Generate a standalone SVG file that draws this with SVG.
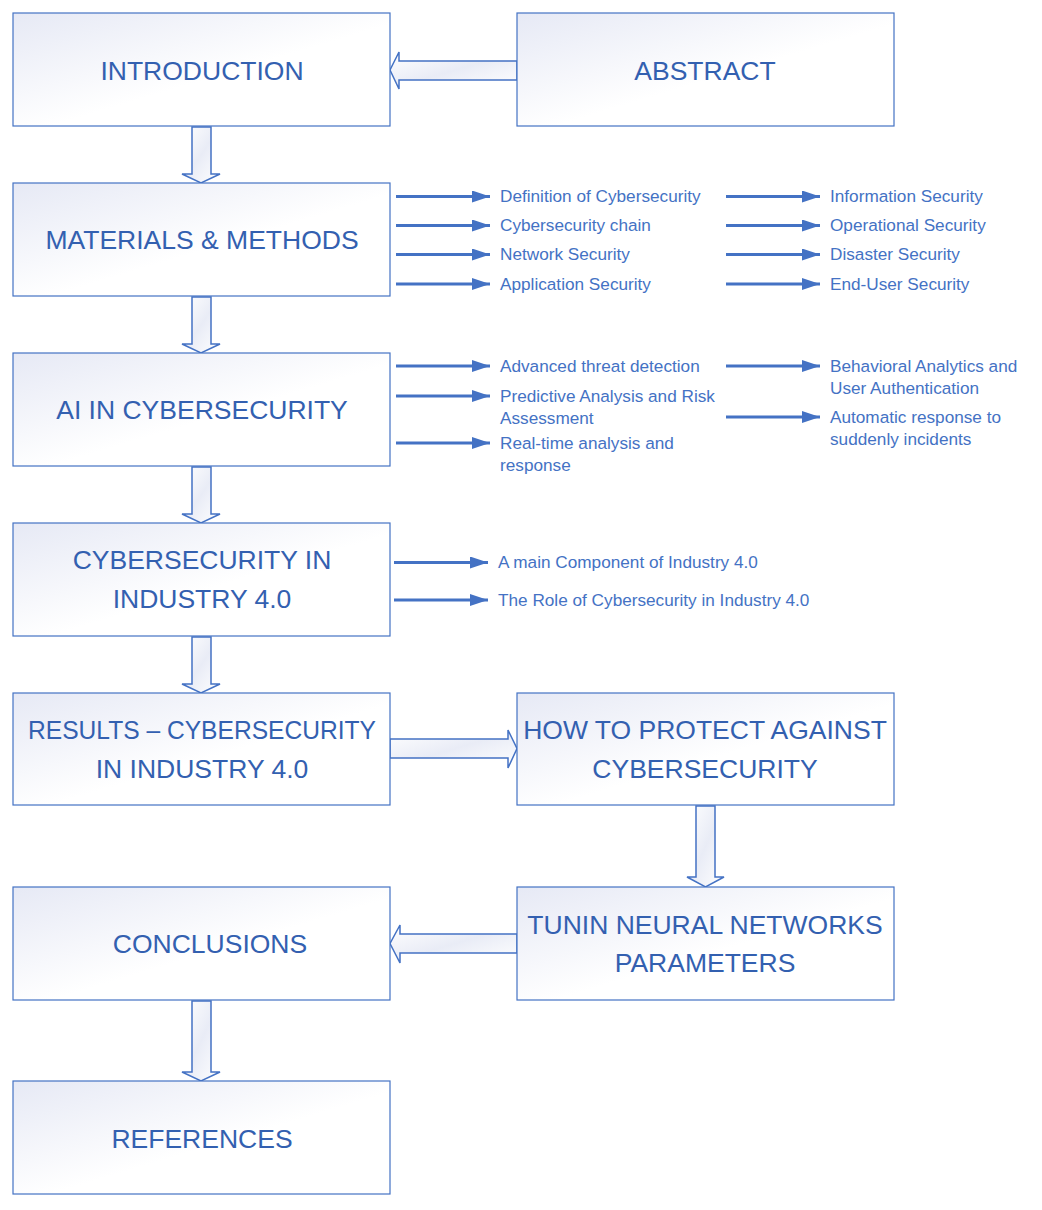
<svg xmlns="http://www.w3.org/2000/svg" width="1042" height="1210" viewBox="0 0 1042 1210">
<defs>
<linearGradient id="g" x1="0" y1="0" x2="1" y2="1">
<stop offset="0" stop-color="#E6E9F5"/>
<stop offset="0.55" stop-color="#FFFFFF"/>
<stop offset="1" stop-color="#FFFFFF"/>
</linearGradient>
<linearGradient id="ga" x1="0" y1="0" x2="1" y2="1">
<stop offset="0" stop-color="#FFFFFF"/>
<stop offset="0.5" stop-color="#E9ECF6"/>
<stop offset="1" stop-color="#FFFFFF"/>
</linearGradient>
<marker id="ah" markerUnits="userSpaceOnUse" markerWidth="20" markerHeight="12" refX="18" refY="6" orient="auto">
<path d="M0,0 L18,6 L0,12 Z" fill="#4472C4"/>
</marker>
<style>
.box{fill:url(#g);stroke:#4472C4;stroke-width:1.2}
.blk{fill:url(#ga);stroke:#4472C4;stroke-width:1.5;stroke-linejoin:miter}
.t{font-family:"Liberation Sans",Arial,sans-serif;font-size:26.5px;fill:#3360B0;text-anchor:middle}
.s{font-family:"Liberation Sans",Arial,sans-serif;font-size:17.2px;fill:#4472C4}
.ln{stroke:#4472C4;stroke-width:3;fill:none;marker-end:url(#ah)}
</style>
</defs>
<rect width="1042" height="1210" fill="#FFFFFF"/>

<g id="connectors">
<path class="blk" d="M517,61 L399,61 L399,52 L390,70 L399,89 L399,80 L517,80 Z"/>
<path class="blk" d="M192,127 L192,174 L182,174 L201,183 L220,174 L211,174 L211,127 Z"/>
<path class="blk" d="M192,297 L192,344 L182,344 L201,353 L220,344 L211,344 L211,297 Z"/>
<path class="blk" d="M192,467 L192,514 L182,514 L201,523 L220,514 L211,514 L211,467 Z"/>
<path class="blk" d="M192,637 L192,684 L182,684 L201,693 L220,684 L211,684 L211,637 Z"/>
<path class="blk" d="M390,739 L508,739 L508,730 L517,748.5 L508,768 L508,758 L390,758 Z"/>
<path class="blk" d="M696,806 L696,877 L687,877 L705.5,887 L724,877 L715,877 L715,806 Z"/>
<path class="blk" d="M517,934 L400,934 L400,925 L390,943.5 L400,963 L400,953 L517,953 Z"/>
<path class="blk" d="M192,1001 L192,1072 L182,1072 L201,1081 L220,1072 L211,1072 L211,1001 Z"/>
<line class="ln" x1="396" y1="196.5" x2="490" y2="196.5"/>
<line class="ln" x1="396" y1="225.5" x2="490" y2="225.5"/>
<line class="ln" x1="396" y1="254.5" x2="490" y2="254.5"/>
<line class="ln" x1="396" y1="284" x2="490" y2="284"/>
<line class="ln" x1="726" y1="196.5" x2="820" y2="196.5"/>
<line class="ln" x1="726" y1="225.5" x2="820" y2="225.5"/>
<line class="ln" x1="726" y1="254.5" x2="820" y2="254.5"/>
<line class="ln" x1="726" y1="284" x2="820" y2="284"/>
<line class="ln" x1="396" y1="366" x2="490" y2="366"/>
<line class="ln" x1="396" y1="396" x2="490" y2="396"/>
<line class="ln" x1="396" y1="443" x2="490" y2="443"/>
<line class="ln" x1="726" y1="366" x2="820" y2="366"/>
<line class="ln" x1="726" y1="417" x2="820" y2="417"/>
<line class="ln" x1="394" y1="562.5" x2="488" y2="562.5"/>
<line class="ln" x1="394" y1="600" x2="488" y2="600"/>
</g>

<g id="introduction"><rect class="box" x="13" y="13" width="377" height="113"/><text class="t" x="202" y="80">INTRODUCTION</text></g>
<g id="abstract"><rect class="box" x="517" y="13" width="377" height="113"/><text class="t" x="705" y="80">ABSTRACT</text></g>
<g id="materials"><rect class="box" x="13" y="183" width="377" height="113"/><text class="t" x="202" y="249">MATERIALS &amp; METHODS</text></g>
<g id="ai"><rect class="box" x="13" y="353" width="377" height="113"/><text class="t" x="202" y="419">AI IN CYBERSECURITY</text></g>
<g id="cyber40"><rect class="box" x="13" y="523" width="377" height="113"/><text class="t" x="202" y="569">CYBERSECURITY IN</text><text class="t" x="202" y="608">INDUSTRY 4.0</text></g>
<g id="results"><rect class="box" x="13" y="693" width="377" height="112"/><text class="t" x="202" y="739" style="font-size:25px" textLength="348" lengthAdjust="spacingAndGlyphs">RESULTS – CYBERSECURITY</text><text class="t" x="202" y="778">IN INDUSTRY 4.0</text></g>
<g id="protect"><rect class="box" x="517" y="693" width="377" height="112"/><text class="t" x="705" y="739">HOW TO PROTECT AGAINST</text><text class="t" x="705" y="778">CYBERSECURITY</text></g>
<g id="tunin"><rect class="box" x="517" y="887" width="377" height="113"/><text class="t" x="705" y="934">TUNIN NEURAL NETWORKS</text><text class="t" x="705" y="972">PARAMETERS</text></g>
<g id="conclusions"><rect class="box" x="13" y="887" width="377" height="113"/><text class="t" x="210" y="953">CONCLUSIONS</text></g>
<g id="references"><rect class="box" x="13" y="1081" width="377" height="113"/><text class="t" x="202" y="1148">REFERENCES</text></g>

<g id="labels">
<text class="s" x="500" y="202">Definition of Cybersecurity</text>
<text class="s" x="500" y="231">Cybersecurity chain</text>
<text class="s" x="500" y="260">Network Security</text>
<text class="s" x="500" y="289.5">Application Security</text>
<text class="s" x="830" y="202">Information Security</text>
<text class="s" x="830" y="231">Operational Security</text>
<text class="s" x="830" y="260">Disaster Security</text>
<text class="s" x="830" y="289.5">End-User Security</text>
<text class="s" x="500" y="371.5">Advanced threat detection</text>
<text class="s" x="500" y="401.5">Predictive Analysis and Risk</text>
<text class="s" x="500" y="423.5">Assessment</text>
<text class="s" x="500" y="448.5">Real-time analysis and</text>
<text class="s" x="500" y="470.5">response</text>
<text class="s" x="830" y="371.5">Behavioral Analytics and</text>
<text class="s" x="830" y="393.5">User Authentication</text>
<text class="s" x="830" y="422.5">Automatic response to</text>
<text class="s" x="830" y="444.5">suddenly incidents</text>
<text class="s" x="498" y="568">A main Component of Industry 4.0</text>
<text class="s" x="498" y="605.5">The Role of Cybersecurity in Industry 4.0</text>
</g>
</svg>
